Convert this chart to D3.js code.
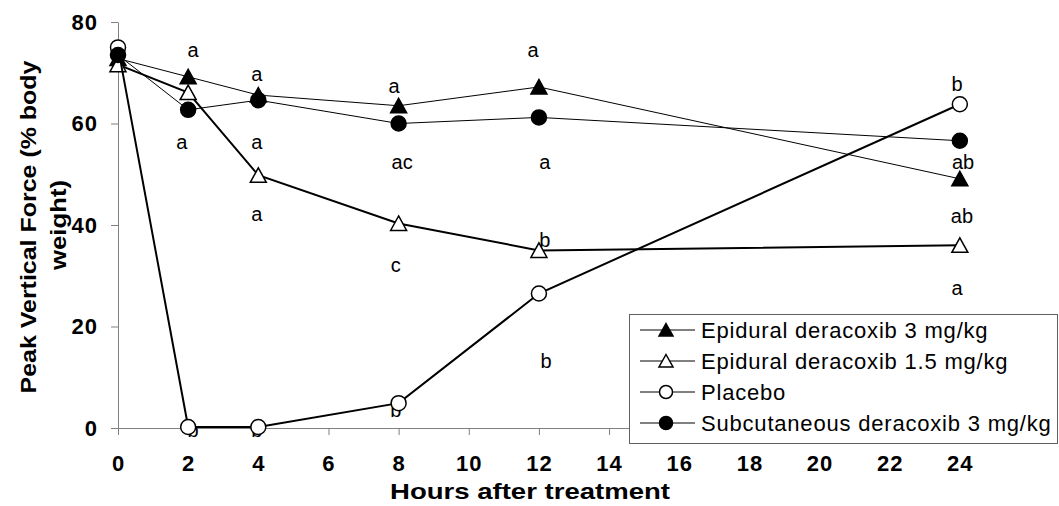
<!DOCTYPE html>
<html>
<head>
<meta charset="utf-8">
<script src="https://cdn.jsdelivr.net/npm/d3@7"></script>
<style>
  body { margin: 0; background: #fff; }
  svg { font-family: Arial, "Liberation Sans", sans-serif; }
</style>
</head>
<body>
<div id="chart"></div>
<script>
// Data
const hours = [0, 2, 4, 8, 12, 24]
const seriesNames = ["Epidural deracoxib 3 mg/kg", "Epidural deracoxib 1.5 mg/kg", "Placebo", "Subcutaneous deracoxib 3 mg/kg"]
const epidural3 = [72.8, 69.2, 65.6, 63.5, 67.2, 49.1]
const epidural15 = [71.6, 66.1, 49.8, 40.3, 35.0, 36.0]
const placebo = [75.0, 0.2, 0.2, 4.9, 26.5, 63.8]
const subcutaneous = [73.5, 62.7, 64.6, 60.0, 61.2, 56.6]
const xTicks = [0, 2, 4, 6, 8, 10, 12, 14, 16, 18, 20, 22, 24]
const yTicks = [0, 20, 40, 60, 80]

// significance letters: hour, value at the text baseline, text
const letterHours = [2.14, 1.82, 2.14, 3.96, 3.96, 3.96, 3.96, 7.87, 8.1, 7.92, 7.92, 11.83, 12.17, 12.17, 12.2, 23.92, 24.09, 24.06, 23.92]
const letterValues = [73.1, 55.0, -1.8, 68.4, 55.0, 40.8, -1.8, 66.0, 51.0, 30.7, 2.2, 73.1, 51.0, 35.7, 11.8, 66.4, 51.0, 40.4, 26.2]
const letterTexts = ["a", "a", "b", "a", "a", "a", "b", "a", "ac", "c", "b", "a", "a", "b", "b", "b", "ab", "ab", "a"]

function drawChart(container) {

    let svg = container.append("svg")
        .attr("width", 1059)
        .attr("height", 506)

    // scales
    let x = d3.scaleLinear().domain([0, 26]).range([118, 1030])
    let y = d3.scaleLinear().domain([0, 80]).range([428, 22])

    // x axis
    let xAxis = svg.append("g")
        .attr("transform", "translate(0,428)")
        .call(d3.axisBottom(x).tickValues(xTicks).tickSize(7).tickPadding(20).tickSizeOuter(0))
    xAxis.select(".domain").attr("stroke", "#808080")
    xAxis.selectAll(".tick line").attr("stroke", "#808080")
    xAxis.selectAll(".tick text")
        .attr("font-size", 22).attr("font-weight", "bold").attr("fill", "#000")
        .attr("letter-spacing", 1)

    // y axis
    let yAxis = svg.append("g")
        .attr("transform", "translate(118,0)")
        .call(d3.axisLeft(y).tickValues(yTicks).tickSize(7).tickPadding(13).tickSizeOuter(0))
    yAxis.select(".domain").attr("stroke", "#808080")
    yAxis.selectAll(".tick line").attr("stroke", "#808080")
    yAxis.selectAll(".tick text")
        .attr("font-size", 22).attr("font-weight", "bold").attr("fill", "#000")
        .attr("letter-spacing", 1)

    // axis titles
    svg.append("text")
        .attr("x", 530).attr("y", 499)
        .attr("text-anchor", "middle")
        .attr("font-size", 22).attr("font-weight", "bold")
        .attr("textLength", 280).attr("lengthAdjust", "spacingAndGlyphs")
        .text("Hours after treatment")

    svg.append("text")
        .attr("transform", "translate(36,227) rotate(-90)")
        .attr("text-anchor", "middle")
        .attr("font-size", 22).attr("font-weight", "bold")
        .attr("textLength", 333).attr("lengthAdjust", "spacingAndGlyphs")
        .text("Peak Vertical Force (% body")
    svg.append("text")
        .attr("transform", "translate(66,225) rotate(-90)")
        .attr("text-anchor", "middle")
        .attr("font-size", 22).attr("font-weight", "bold")
        .attr("textLength", 90).attr("lengthAdjust", "spacingAndGlyphs")
        .text("weight)")

    // letters (drawn first so the markers sit on top of them)
    svg.append("g")
        .selectAll("text")
        .data(letterTexts)
        .enter()
        .append("text")
        .attr("x", function(d, i) { return x(letterHours[i]) })
        .attr("y", function(d, i) { return y(letterValues[i]) })
        .attr("text-anchor", "middle")
        .attr("font-size", 20)
        .text(function(d) { return d })

    // series
    let series = [
        {name: seriesNames[0], values: epidural3, shape: "triangle", fill: "#000", width: 1},
        {name: seriesNames[1], values: epidural15, shape: "triangle", fill: "#fff", width: 2},
        {name: seriesNames[2], values: placebo, shape: "circle", fill: "#fff", width: 2},
        {name: seriesNames[3], values: subcutaneous, shape: "circle", fill: "#000", width: 1}
    ]

    let line = d3.line()
        .x(function(d, i) { return x(hours[i]) })
        .y(function(d) { return y(d) })

    function drawMarker(g, s, big) {
        if (s.shape == "triangle") {
            g.append("path")
                .attr("d", big ? "M0,-7.5L8,7L-8,7Z" : "M0,-6.5L7,6L-7,6Z")
                .attr("fill", s.fill).attr("stroke", "#000").attr("stroke-width", 1.5)
        } else {
            g.append("circle")
                .attr("r", big ? 7.5 : 6.5)
                .attr("fill", s.fill).attr("stroke", "#000").attr("stroke-width", 1.5)
        }
    }

    series.forEach(function(s) {
        let g = svg.append("g")
        g.append("path")
            .attr("d", line(s.values))
            .attr("fill", "none")
            .attr("stroke", "#000")
            .attr("stroke-width", s.width)
        g.selectAll("g.pt")
            .data(s.values)
            .enter()
            .append("g")
            .attr("class", "pt")
            .attr("transform", function(d, i) { return "translate(" + x(hours[i]) + "," + y(d) + ")" })
            .each(function() { drawMarker(d3.select(this), s, true) })
    })

    // legend
    let legend = svg.append("g")
    legend.append("rect")
        .attr("x", 629.5).attr("y", 314.5)
        .attr("width", 428).attr("height", 129)
        .attr("fill", "#fff").attr("stroke", "#606060")

    let rowY = d3.scalePoint().domain(seriesNames).range([330, 423])
    series.forEach(function(s) {
        let ry = rowY(s.name)
        legend.append("line")
            .attr("x1", 640).attr("x2", 695)
            .attr("y1", ry).attr("y2", ry)
            .attr("stroke", "#000").attr("stroke-width", 1)
        let m = legend.append("g").attr("transform", "translate(666," + ry + ")")
        drawMarker(m, s, false)
        legend.append("text")
            .attr("x", 701).attr("y", ry + 8)
            .attr("font-size", 22)
            .attr("letter-spacing", 0.8)
            .text(s.name)
    })
}

drawChart(d3.select("#chart"))
</script>
</body>
</html>
